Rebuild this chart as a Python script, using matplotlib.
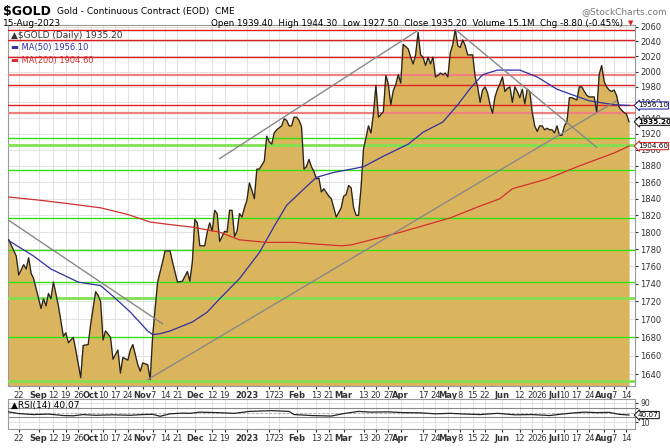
import numpy as np
import pandas as pd
import matplotlib.pyplot as plt
from matplotlib.ticker import FixedLocator

# trading days 16-Aug-2022 .. 15-Aug-2023
holidays = ['2022-09-05', '2022-11-24', '2022-12-26', '2023-01-02', '2023-01-16',
            '2023-02-20', '2023-04-07', '2023-05-29', '2023-06-19', '2023-07-04']
dates = pd.bdate_range('2022-08-16', '2023-08-15')
dates = dates[~dates.isin(pd.to_datetime(holidays))]

# close (trading-day index, price)
close_day = [0, 3, 4, 6, 7, 8, 9, 10, 12, 13, 14, 15, 16, 17, 18, 20, 22, 23, 24, 26, 27, 29, 30, 32, 33, 35,
             36, 37, 38, 39, 41, 42, 44, 45, 46, 48, 49, 50, 52, 53, 54, 56, 57, 58, 59, 60, 62, 63, 65, 66,
             68, 70, 72, 73, 74, 75, 76, 77, 79, 80, 81, 82, 83, 84, 85, 87, 88, 89, 90, 91, 92, 93, 94,
             95, 96, 97, 98, 99, 100, 101, 103, 104, 105, 106, 107, 108, 110, 111, 112, 113, 114, 115, 116,
             117, 118, 119, 120, 121, 122, 123, 124, 125, 126, 127, 129, 130, 132, 134, 135, 136, 137, 138,
             139, 140, 141, 142, 143, 144, 145, 146, 147, 148, 149, 151, 152, 153, 154, 155, 156, 157, 158,
             159, 161, 162, 163, 164, 165, 166, 167, 168, 169, 170, 171, 172, 173, 174, 175, 176, 177, 178,
             179, 180, 181, 182, 183, 184, 185, 187, 188, 189, 190, 191, 192, 193, 194, 195, 196, 197, 198,
             199, 200, 201, 202, 203, 204, 205, 206, 207, 208, 209, 210, 211, 212, 213, 214, 215, 216, 217,
             218, 219, 220, 221, 222, 223, 224, 225, 226, 227, 229, 230, 231, 232, 233, 234, 236, 237, 238,
             239, 240, 241, 242, 243, 244, 245, 246, 247, 248, 249, 250]
close = [1791, 1772, 1750, 1762, 1757, 1770, 1752, 1746, 1723, 1712, 1723, 1715, 1729, 1723, 1742, 1715, 1681,
         1685, 1674, 1680, 1666, 1636, 1671, 1672, 1694, 1731, 1727, 1720, 1677, 1687, 1680, 1656, 1666, 1641,
         1658, 1655, 1666, 1672, 1650, 1643, 1652, 1650, 1634, 1681, 1712, 1742, 1765, 1778, 1778, 1765, 1742,
         1743, 1754, 1743, 1765, 1815, 1811, 1784, 1784, 1800, 1811, 1801, 1826, 1822, 1789, 1801, 1800, 1826,
         1826, 1795, 1801, 1822, 1818, 1829, 1838, 1859, 1850, 1840, 1876, 1876, 1886, 1917, 1910, 1907, 1921,
         1925, 1930, 1939, 1937, 1930, 1930, 1941, 1941, 1937, 1929, 1876, 1879, 1888, 1879, 1873, 1864, 1865,
         1848, 1852, 1843, 1840, 1818, 1829, 1843, 1845, 1856, 1853, 1829, 1820, 1820, 1853, 1901, 1915, 1930,
         1921, 1945, 1982, 1941, 1948, 1995, 1983, 1957, 1975, 1983, 1996, 1985, 2036, 2030, 2019, 2010, 2022,
         2052, 2022, 2019, 2008, 2019, 2010, 2019, 1993, 1995, 1998, 1996, 1998, 1993, 2025, 2036, 2056, 2034,
         2032, 2042, 2034, 2022, 2022, 1993, 1980, 1960, 1976, 1980, 1972, 1957, 1946, 1967, 1977, 1984, 1993,
         1974, 1978, 1980, 1960, 1980, 1974, 1966, 1977, 1958, 1977, 1974, 1947, 1930, 1923, 1930, 1930, 1925,
         1927, 1925, 1925, 1921, 1930, 1918, 1918, 1930, 1935, 1966, 1966, 1963, 1980, 1980, 1974, 1969, 1967,
         1967, 1947, 1996, 2008, 1987, 1980, 1976, 1974, 1976, 1969, 1954, 1950, 1947, 1945, 1935.2]

ma50_day = [0, 10, 17, 28, 37, 42, 49, 56, 58, 61, 65, 74, 80, 85, 93, 101, 107, 112, 118, 124, 131, 138, 143,
            151, 161, 167, 175, 181, 186, 191, 197, 206, 213, 221, 227, 234, 244, 250]
ma50 = [1790, 1772, 1757, 1742, 1738, 1726, 1708, 1687, 1683, 1684, 1687, 1697, 1708, 1723, 1746, 1776, 1807,
        1832, 1849, 1866, 1872, 1876, 1879, 1892, 1907, 1922, 1935, 1957, 1978, 1996, 2002, 2002, 1993, 1977,
        1970, 1962, 1957, 1956.1]

ma200_day = [0, 13, 24, 37, 48, 57, 65, 74, 85, 93, 104, 115, 124, 134, 138, 158, 178, 189, 198, 203, 217, 230,
             244, 250]
ma200 = [1842, 1838, 1834, 1829, 1821, 1812, 1809, 1806, 1800, 1791, 1788, 1788, 1786, 1784, 1785, 1800, 1817,
         1830, 1840, 1852, 1864, 1880, 1896, 1904.6]

rsi_day = [0, 4, 10, 16, 22, 26, 30, 35, 42, 49, 54, 58, 61, 65, 70, 73, 77, 84, 91, 97, 106, 113, 115, 122, 130,
           135, 141, 146, 153, 159, 166, 172, 178, 184, 190, 197, 204, 211, 218, 223, 227, 232, 237, 242, 246, 250]
rsi = [53, 46, 42, 44, 38, 37, 42, 39, 41, 39, 42, 43, 35, 45, 48, 47, 52, 50, 47, 55, 58, 55, 42, 38, 36, 46, 55,
       52, 53, 50, 49, 45, 47, 44, 42, 47, 41, 42, 38, 44, 48, 52, 50, 51, 43, 40.07]

red_levels = [2055, 2042, 2019, 1982, 1957]
pink_levels = [1995, 1947]
green_levels = [1915, 1875, 1817, 1779, 1742, 1680]
lgreen_levels = [1906, 1724, 1633]

# trend lines: (day, price) endpoints
trends = [((0, 1814), (62, 1695)), ((85, 1889), (165, 2055)),
          ((56, 1634), (245, 1962)), ((180, 2056), (237, 1903))]

tick_dates = ['2022-08-22', '2022-09-01', '2022-09-12', '2022-09-19', '2022-09-26', '2022-10-03',
              '2022-10-10', '2022-10-17', '2022-10-24', '2022-11-01', '2022-11-07', '2022-11-14',
              '2022-11-21', '2022-12-01', '2022-12-12', '2022-12-19', '2023-01-03', '2023-01-17',
              '2023-01-23', '2023-02-01', '2023-02-13', '2023-02-21', '2023-03-01', '2023-03-13',
              '2023-03-20', '2023-03-27', '2023-04-03', '2023-04-17', '2023-04-24', '2023-05-01',
              '2023-05-08', '2023-05-15', '2023-05-22', '2023-06-01', '2023-06-12', '2023-06-20',
              '2023-06-26', '2023-07-03', '2023-07-10', '2023-07-17', '2023-07-24', '2023-08-01',
              '2023-08-07', '2023-08-14']
tick_labels = ['22', 'Sep', '12', '19', '26', 'Oct', '10', '17', '24', 'Nov', '7', '14', '21', 'Dec', '12', '19',
               '2023', '17', '23', 'Feb', '13', '21', 'Mar', '13', '20', '27', 'Apr', '17', '24', 'May', '8',
               '15', '22', 'Jun', '12', '20', '26', 'Jul', '10', '17', '24', 'Aug', '7', '14']
ticks = [int(dates.searchsorted(pd.Timestamp(d))) for d in tick_dates]

fill_col = '#dbb55d'
fig = plt.figure(figsize=(6.7, 4.48), dpi=100)
ax = fig.add_axes([0.012, 0.138, 0.936, 0.806])
ax.set_yscale('log')
ax.set_ylim(1627, 2062)
ax.set_xlim(-0.3, 252.5)
ax.fill_between(close_day, close, 1500, color=fill_col, zorder=2)
ax.plot(close_day, close, color='#222222', lw=0.9, zorder=4)
ax.plot(ma50_day, ma50, color='#3030a0', lw=0.9, zorder=5)
ax.plot(ma200_day, ma200, color='#d03030', lw=0.9, zorder=5)
for v in red_levels:
    ax.axhline(v, color='#e02020', lw=1, zorder=3)
for v in pink_levels:
    ax.axhline(v, color='#f08080', lw=1.6, zorder=3)
for v in green_levels:
    ax.axhline(v, color='#33e010', lw=1, zorder=3)
for v in lgreen_levels:
    ax.axhline(v, color='#80e050', lw=2, zorder=3)
for (x0, y0), (x1, y1) in trends:
    ax.plot([x0, x1], [y0, y1], color='#888888', lw=1, zorder=6)

yt = list(range(1640, 2061, 20))
ax.yaxis.set_major_locator(FixedLocator(yt))
ax.yaxis.set_minor_locator(FixedLocator([]))
ax.set_yticklabels([str(v) for v in yt], fontsize=6)
ax.yaxis.tick_right()
ax.grid(True, color='#dddddd', lw=0.6, zorder=0)
ax.set_axisbelow(True)


def date_axis(a):
    a.xaxis.set_major_locator(FixedLocator(ticks))
    a.set_xticklabels(tick_labels, fontsize=6)
    for t in a.get_xticklabels():
        if not t.get_text().isdigit() or t.get_text() == '2023':
            t.set_fontweight('bold')
    a.tick_params(length=2, pad=1.5, colors='#333333')
    for s in a.spines.values():
        s.set_color('#999999')


date_axis(ax)


def tag(a, y, txt, ec, fw='normal'):
    a.annotate(txt, xy=(1.0, y), xycoords=('axes fraction', 'data'), xytext=(2, 0),
               textcoords='offset points', va='center', fontsize=5.2, fontweight=fw,
               bbox=dict(boxstyle='larrow,pad=0.08', fc='white', ec=ec, lw=0.8), zorder=10,
               annotation_clip=False)


tag(ax, 1956.1, '1956.10', '#3030a0')
tag(ax, 1935.2, '1935.20', '#222222', 'bold')
tag(ax, 1904.6, '1904.60', '#d03030')

ax.text(0.005, 0.985, '\u25B2$GOLD (Daily) 1935.20', transform=ax.transAxes, fontsize=6.5, va='top',
        color='#333333', zorder=11)
ax.text(0.005, 0.950, '\u25AC MA(50) 1956.10', transform=ax.transAxes, fontsize=6, va='top',
        color='#3030a0', zorder=11)
ax.text(0.005, 0.915, '\u25AC MA(200) 1904.60', transform=ax.transAxes, fontsize=6, va='top',
        color='#d03030', zorder=11)

fig.text(0.004, 0.975, '$GOLD', fontsize=9, fontweight='bold', va='center')
fig.text(0.085, 0.975, 'Gold - Continuous Contract (EOD)  CME', fontsize=6.5, va='center')
fig.text(0.004, 0.948, '15-Aug-2023', fontsize=6.5, va='center')
fig.text(0.995, 0.975, '@StockCharts.com', fontsize=6.5, va='center', ha='right', color='#777777')
fig.text(0.93, 0.948, 'Open 1939.40  High 1944.30  Low 1927.50  Close 1935.20  Volume 15.1M  Chg -8.80 (-0.45%)',
         fontsize=6.3, va='center', ha='right')
fig.text(0.937, 0.948, '\u25BC', fontsize=5, va='center', color='#d02020')

# RSI panel
ax2 = fig.add_axes([0.012, 0.042, 0.936, 0.068])
ax2.set_xlim(-0.3, 252.5)
ax2.set_ylim(-18, 107)
ax2.plot(rsi_day, rsi, color='#222222', lw=0.9, zorder=4)
ax2.axhline(70, color='#888888', lw=0.8)
ax2.axhline(30, color='#888888', lw=0.8)
ax2.axhline(50, color='#aaaaaa', lw=0.6, ls='--')
ax2.yaxis.tick_right()
ax2.set_yticks([10, 30, 70, 90])
ax2.set_yticklabels(['10', '', '', '90'], fontsize=5.5)
ax2.grid(True, color='#dddddd', lw=0.6)
date_axis(ax2)
ax2.text(0.005, 0.93, '\u25B2RSI(14) 40.07', transform=ax2.transAxes, fontsize=6.5, va='top')
tag(ax2, 40.07, '40.07', '#222222')

fig.savefig('out.png', dpi=100)
